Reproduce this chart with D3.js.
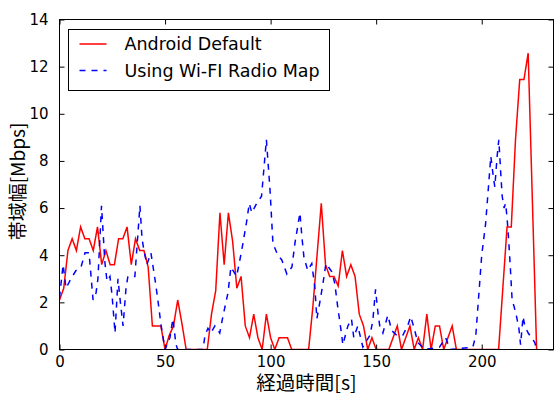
<html>
<head>
<meta charset="utf-8" />
<title>帯域幅</title>
<script src="https://d3js.org/d3.v7.min.js"></script>
<style>
body { margin: 0; background: #fff; }
text { font-family: "DejaVu Sans", sans-serif; }
</style>
</head>
<body>
<script>

// Android Default, one sample every 2 s
var redTime = [0,2,4,6,8,10,12,14,16,18,20,22,24,26,28,30,32,34,36,38,
	40,42,44,46,48,50,52,54,56,58,60,62,64,66,68,70,72,74,76,78,
	80,82,84,86,88,90,92,94,96,98,100,102,104,106,108,110,112,114,116,118,
	120,122,124,126,128,130,132,134,136,138,140,142,144,146,148,150,152,154,156,158,
	160,162,164,166,168,170,172,174,176,178,180,182,184,186,188,190,192,194,196,198,
	200,202,204,206,208,210,212,214,216,218,220,222,224,226];
var redValues = [2.1,2.6,4.2,4.7,4.2,5.2,4.7,4.7,4.2,5.2,3.6,4.2,3.6,3.6,4.7,4.7,5.2,3.6,4.7,4.2,
	4.2,3.5,1.0,1.0,1.0,0,0.6,1.0,2.1,1.1,0,0,0,0,0,0,1.5,2.5,5.8,3.6,
	5.8,4.6,2.6,3.1,1.0,0.5,1.5,0.5,0,1.5,0.5,0,0.5,0.5,0.5,0,0,0,0,0,
	1.8,4.0,6.2,3.6,3.1,3.1,2.7,4.2,3.1,3.6,3.1,1.5,1.0,0,0.5,0,0,0,0,0.5,
	1.0,0,0.5,1.0,0,0.5,0,1.5,0,1.0,1.0,0,0.5,1.0,0,0,0,0,0,0,
	0,0,0,0,0,2.6,5.2,5.2,8.9,11.45,11.45,12.57,6.3,0];

// Using Wi-FI Radio Map
var blueTime = [0,1.7,3.1,5.4,7.8,10.2,12.1,14,15.9,17.3,18.2,19.9,21.5,22.5,23.9,24.9,26.3,27.7,28.6,30.1,
	31.5,32.4,35.7,38.1,39.1,40,41.4,43.3,45.2,46.6,48,50,52.3,53.7,55.2,56,68,68.9,70.3,71.7,
	73.6,75.9,77.4,79.8,81.2,83.9,86.3,88.6,89.9,91.1,93.4,95.7,98,99.7,101.1,103.4,105.3,107.7,110.1,111.5,
	113.9,114.8,115.8,117.6,119.5,121,121.9,123.3,124.8,126.2,129,130.4,131.8,133.7,134.2,136.6,138.3,139.4,141.3,143.7,
	147,148.4,149.7,150.8,151.7,153.2,155.5,157.4,159.8,162.6,164.9,166.4,168.3,169.7,173,180,182.9,185,195.8,197.2,
	198.6,200,201.8,202.5,203.8,204.3,205.4,206.2,207.3,208.1,209,209.7,210.6,211.3,212,212.8,213.6,214.4,215.4,216.5,
	217.6,218.4,219.6,220.4,222,223.6,225.1,226];
var blueValues = [2.2,3.6,2.6,3.0,3.35,3.5,4.1,4.1,2.1,2.4,3.0,6.1,3.7,2.9,3.1,2.3,0.7,3.0,2.2,1.0,
	2.6,3.1,3.1,6.1,4.7,4.2,3.6,4.1,3.0,2.1,1.1,0,0.5,1.3,0.2,0,0,0.6,0.9,0.7,
	1.0,0.7,1.4,2.4,3.5,3.1,4.2,5.4,6.2,5.8,6.2,6.5,8.9,6.8,4.5,4.0,3.8,3.2,3.5,4.5,
	5.8,4.8,3.9,3.35,3.65,2.6,1.3,2.0,2.8,3.65,3.3,2.8,1.8,0.6,0.2,1.0,1.3,0.5,1.0,0.1,
	0.6,1.2,2.55,1.6,1.0,0.7,1.45,0.8,0.6,0.6,1.0,1.4,0.8,0.3,0,0.1,0.5,0,0.1,0.6,
	2.3,4.0,5.3,6.1,7.6,8.2,7.4,6.9,8.2,8.9,7.5,6.5,6.0,6.2,5.6,4.6,3.4,2.1,1.8,1.4,
	0.9,0.2,1.4,1.0,0.7,0.5,0.3,0];

var xTicks = [0,50,100,150,200];
var yTicks = [0,2,4,6,8,10,12,14];
var legendLabels = ["Android Default","Using Wi-FI Radio Map"];

var W = 554, H = 396;
var margin = {top: 19.5, right: 0.5, bottom: 46.5, left: 59.5};
var width = W - margin.left - margin.right,
	height = H - margin.top - margin.bottom;

var svg = d3.select("body").append("svg")
	.attr("width", W)
	.attr("height", H)
	.attr("xmlns","http://www.w3.org/2000/svg");

var g = svg.append("g").attr("transform", "translate(" + margin.left + "," + margin.top + ")");

var xScale = d3.scaleLinear().domain([0,234]).range([0,width]);
var yScale = d3.scaleLinear().domain([0,14]).range([height,0]);

g.append("clipPath").attr("id","plotclip")
	.append("rect").attr("x",0).attr("y",0).attr("width",width).attr("height",height);

var redData = redTime.map(function(t,i) { return [t, redValues[i]]; });
var blueData = blueTime.map(function(t,i) { return [t, blueValues[i]]; });

var line = d3.line()
	.x(function(d) { return xScale(d[0]); })
	.y(function(d) { return yScale(d[1]); });

g.append("path")
	.datum(redData)
	.attr("clip-path","url(#plotclip)")
	.attr("fill","none")
	.attr("stroke","#ff0000")
	.attr("stroke-width",1.5)
	.attr("d", line);

g.append("path")
	.datum(blueData)
	.attr("clip-path","url(#plotclip)")
	.attr("fill","none")
	.attr("stroke","#0000ff")
	.attr("stroke-width",1.5)
	.attr("stroke-dasharray","6 6")
	.attr("d", line);

// axes, matplotlib classic style: ticks pointing inward on all sides
var tickLen = 5;
var bottomAxis = g.append("g").attr("transform","translate(0," + height + ")")
	.call(d3.axisBottom(xScale).tickValues(xTicks).tickSize(-tickLen).tickPadding(7));
var topAxis = g.append("g")
	.call(d3.axisTop(xScale).tickValues(xTicks).tickSize(-tickLen).tickFormat(""));
var leftAxis = g.append("g")
	.call(d3.axisLeft(yScale).tickValues(yTicks).tickSize(-tickLen).tickPadding(tickLen + 6));
var rightAxis = g.append("g").attr("transform","translate(" + width + ",0)")
	.call(d3.axisRight(yScale).tickValues(yTicks).tickSize(-tickLen).tickFormat(""));

[bottomAxis, topAxis, leftAxis, rightAxis].forEach(function(a) {
	a.select(".domain").remove();
	a.selectAll(".tick line").attr("stroke","#000").attr("stroke-width",1);
	a.selectAll("text")
		.attr("fill","#000")
		.style("font-family","'DejaVu Sans', sans-serif")
		.style("font-size","15px");
});

g.append("rect")
	.attr("x",0).attr("y",0)
	.attr("width",width).attr("height",height)
	.attr("fill","none")
	.attr("stroke","#000")
	.attr("stroke-width",1);

// axis labels
svg.append("text")
	.attr("x", margin.left + width/2)
	.attr("y", 390)
	.attr("text-anchor","middle")
	.style("font-family","'Noto Sans CJK JP', sans-serif")
	.style("font-size","19.5px")
	.text("経過時間[s]");

svg.append("text")
	.attr("transform","translate(25," + (margin.top + height/2 - 3) + ") rotate(-90)")
	.attr("text-anchor","middle")
	.style("font-family","'Noto Sans CJK JP', sans-serif")
	.style("font-size","19px")
	.text("帯域幅[Mbps]");

// legend
var legend = svg.append("g").attr("transform","translate(68.5,29.5)");
legend.append("rect")
	.attr("width",261).attr("height",61)
	.attr("fill","#fff")
	.attr("stroke","#000")
	.attr("stroke-width",1);

var legendColors = ["#ff0000","#0000ff"];
var legendDash = [null,"6 6"];
legendLabels.forEach(function(label,i) {
	var y = 14.5 + i*26.5;
	legend.append("line")
		.attr("x1",11).attr("x2",38)
		.attr("y1",y).attr("y2",y)
		.attr("stroke",legendColors[i])
		.attr("stroke-width",1.5)
		.attr("stroke-dasharray",legendDash[i]);
	legend.append("text")
		.attr("x",56)
		.attr("y",y + 6)
		.style("font-size","17.5px")
		.text(label);
});

</script>
</body>
</html>
